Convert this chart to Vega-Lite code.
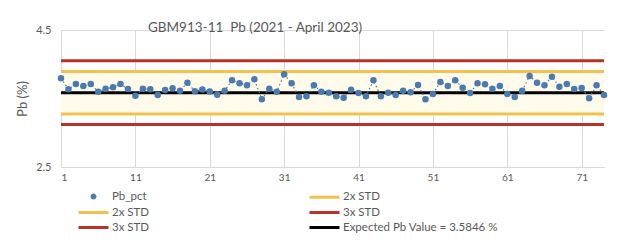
{
  "$schema": "https://vega.github.io/schema/vega-lite/v6.json",
  "width": 543,
  "height": 137,
  "autosize": {"type": "none"},
  "padding": {"left": 61, "top": 30, "right": 19, "bottom": 75},
  "background": "white",
  "config": {
    "font": "Lato",
    "view": {"stroke": null},
    "axis": {"labelColor": "#595959", "titleColor": "#595959", "gridColor": "#d9d9d9", "domainColor": "#d9d9d9", "labelFont": "Lato", "titleFont": "Lato"}
  },
  "title": {
    "text": "GBM913-11\u00a0\u00a0Pb (2021 - April 2023)",
    "anchor": "start",
    "frame": "group",
    "dx": 87,
    "offset": -10,
    "fontSize": 13.5,
    "fontWeight": "normal",
    "color": "#595959",
    "font": "Lato"
  },
  "datasets": {
    "pts": [
      {"n": 1, "pb": 3.795}, {"n": 2, "pb": 3.634}, {"n": 3, "pb": 3.712}, {"n": 4, "pb": 3.682},
      {"n": 5, "pb": 3.712}, {"n": 6, "pb": 3.600}, {"n": 7, "pb": 3.643}, {"n": 8, "pb": 3.663},
      {"n": 9, "pb": 3.712}, {"n": 10, "pb": 3.638}, {"n": 11, "pb": 3.541}, {"n": 12, "pb": 3.643},
      {"n": 13, "pb": 3.634}, {"n": 14, "pb": 3.551}, {"n": 15, "pb": 3.624}, {"n": 16, "pb": 3.648},
      {"n": 17, "pb": 3.614}, {"n": 18, "pb": 3.731}, {"n": 19, "pb": 3.605}, {"n": 20, "pb": 3.630},
      {"n": 21, "pb": 3.602}, {"n": 22, "pb": 3.556}, {"n": 23, "pb": 3.614}, {"n": 24, "pb": 3.765},
      {"n": 25, "pb": 3.722}, {"n": 26, "pb": 3.692}, {"n": 27, "pb": 3.780}, {"n": 28, "pb": 3.488},
      {"n": 29, "pb": 3.643}, {"n": 30, "pb": 3.600}, {"n": 31, "pb": 3.853}, {"n": 32, "pb": 3.722},
      {"n": 33, "pb": 3.522}, {"n": 34, "pb": 3.532}, {"n": 35, "pb": 3.692}, {"n": 36, "pb": 3.600},
      {"n": 37, "pb": 3.585}, {"n": 38, "pb": 3.532}, {"n": 39, "pb": 3.512}, {"n": 40, "pb": 3.629},
      {"n": 41, "pb": 3.580}, {"n": 42, "pb": 3.532}, {"n": 43, "pb": 3.765}, {"n": 44, "pb": 3.532},
      {"n": 45, "pb": 3.585}, {"n": 46, "pb": 3.551}, {"n": 47, "pb": 3.614}, {"n": 48, "pb": 3.590},
      {"n": 49, "pb": 3.697}, {"n": 50, "pb": 3.488}, {"n": 51, "pb": 3.566}, {"n": 52, "pb": 3.741},
      {"n": 53, "pb": 3.682}, {"n": 54, "pb": 3.765}, {"n": 55, "pb": 3.658}, {"n": 56, "pb": 3.580},
      {"n": 57, "pb": 3.722}, {"n": 58, "pb": 3.707}, {"n": 59, "pb": 3.643}, {"n": 60, "pb": 3.682},
      {"n": 61, "pb": 3.566}, {"n": 62, "pb": 3.522}, {"n": 63, "pb": 3.614}, {"n": 64, "pb": 3.829},
      {"n": 65, "pb": 3.731}, {"n": 66, "pb": 3.692}, {"n": 67, "pb": 3.819}, {"n": 68, "pb": 3.672},
      {"n": 69, "pb": 3.712}, {"n": 70, "pb": 3.638}, {"n": 71, "pb": 3.653}, {"n": 72, "pb": 3.503},
      {"n": 73, "pb": 3.692}, {"n": 74, "pb": 3.551}
    ],
    "limits": [
      {"series": "3x STD upper", "value": 4.05},
      {"series": "2x STD upper", "value": 3.895},
      {"series": "Expected", "value": 3.5846},
      {"series": "2x STD lower", "value": 3.275},
      {"series": "3x STD lower", "value": 3.12}
    ],
    "band": [{"lo": 3.275, "hi": 3.895}]
  },
  "layer": [
    {
      "data": {"name": "band"},
      "mark": {"type": "rect", "color": "#fffbea"},
      "encoding": {
        "y": {"field": "lo", "type": "quantitative", "scale": {"domain": [2.5, 4.5], "nice": false}},
        "y2": {"field": "hi"}
      }
    },
    {
      "data": {"name": "limits"},
      "mark": {"type": "rule", "strokeWidth": 3},
      "encoding": {
        "y": {"field": "value", "type": "quantitative", "scale": {"domain": [2.5, 4.5], "nice": false},
          "axis": {"values": [2.5, 4.5], "format": ".1f", "title": "Pb (%)", "grid": true, "ticks": false, "domain": false,
            "labelFlush": false, "labelFontSize": 11, "labelPadding": 10, "titleFontSize": 13, "titleFontWeight": "normal", "titlePadding": 6}},
        "color": {
          "field": "series", "type": "nominal",
          "scale": {
            "domain": ["Pb_pct", "2x STD upper", "3x STD upper", "2x STD lower", "3x STD lower", "Expected"],
            "range": ["#4a7ab0", "#f2c14e", "#b8312a", "#f2c14e", "#b8312a", "#000000"]
          },
          "legend": {
            "orient": "none", "legendX": 26, "legendY": 160, "columns": 2, "columnPadding": 153,
            "title": null, "labelFontSize": 11.5, "labelColor": "#595959", "labelOffset": 12,
            "symbolSize": 100, "symbolStrokeWidth": 3, "rowPadding": 2,
            "labelExpr": "datum.value == 'Expected' ? 'Expected Pb Value = 3.5846 %' : replace(replace(datum.value, ' upper', ''), ' lower', '')",
            "encode": {
              "symbols": {
                "update": {
                  "shape": {"signal": "datum.value == 'Pb_pct' ? 'M0.3,0A0.3,0.3,0,1,1,-0.3,0A0.3,0.3,0,1,1,0.3,0Z' : 'M-3,0H3'"},
                  "stroke": {"scale": "color", "field": "value"},
                  "fill": {"scale": "color", "field": "value"},
                  "strokeWidth": {"value": 3}
                }
              }
            }
          }
        }
      }
    },
    {
      "data": {"name": "pts"},
      "mark": {"type": "line", "color": "#4a7ab0", "strokeWidth": 1.2, "strokeDash": [1.5, 2.5]},
      "encoding": {
        "x": {"field": "n", "type": "quantitative"},
        "y": {"field": "pb", "type": "quantitative"}
      }
    },
    {
      "data": {"name": "pts"},
      "mark": {"type": "point", "filled": true, "size": 42, "opacity": 1},
      "encoding": {
        "x": {"field": "n", "type": "quantitative", "scale": {"domain": [1, 74], "nice": false, "zero": false},
          "axis": {"values": [1, 11, 21, 31, 41, 51, 61, 71], "title": null, "grid": true, "ticks": false, "labelFontSize": 10, "labelPadding": 5, "domain": true}},
        "y": {"field": "pb", "type": "quantitative"},
        "color": {"datum": "Pb_pct", "type": "nominal"}
      }
    }
  ]
}
